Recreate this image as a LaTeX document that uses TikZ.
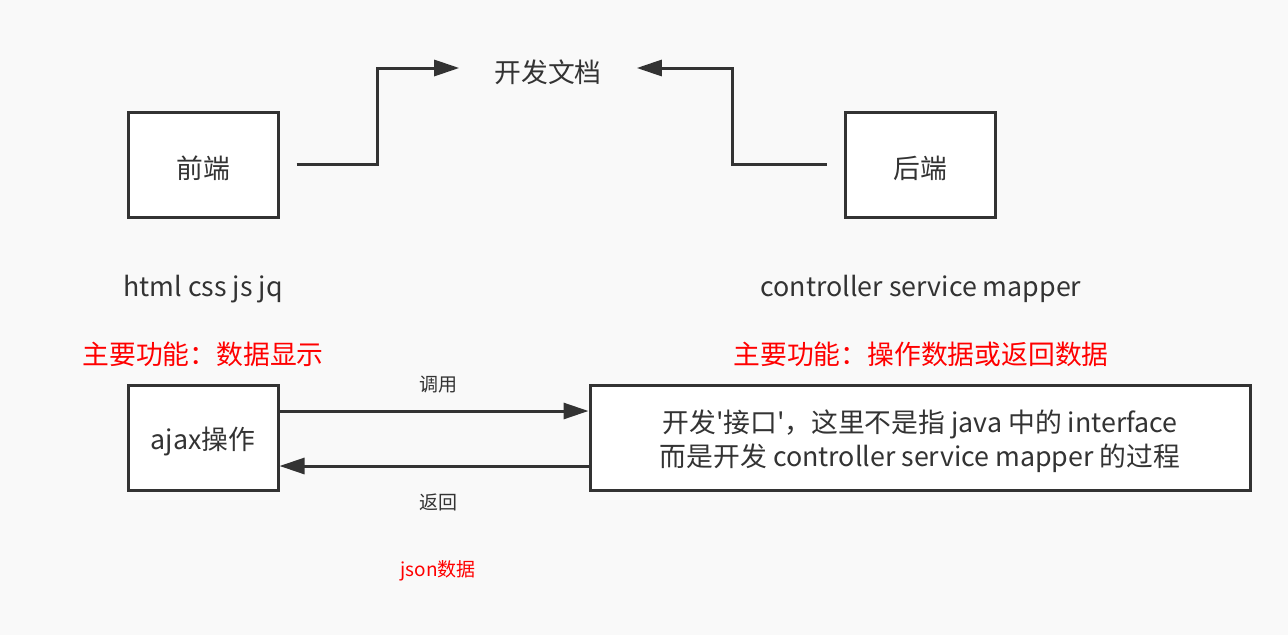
\documentclass[tikz,border=0pt]{standalone}
\usepackage{fontspec}
\newfontfamily\cjk{Noto Sans CJK SC}
\usetikzlibrary{arrows.meta}
\definecolor{ink}{HTML}{333333}
\definecolor{bg}{HTML}{F9F9F9}
\definecolor{redtxt}{HTML}{FF0000}
\begin{document}
\begin{tikzpicture}[x=1pt,y=-1pt,
  every node/.style={inner sep=0pt, text=ink},
  big/.style={font=\cjk\fontsize{26.8}{34}\selectfont, align=center},
  small/.style={font=\cjk\fontsize{19}{24}\selectfont},
  box/.style={draw=ink, line width=3pt, fill=white},
  conn/.style={draw=ink, line width=3pt},
  arr/.style={conn, -{Triangle[length=25pt,width=16pt]}},
  redlabel/.style={text=redtxt}
]
\fill[bg] (0,0) rectangle (1288,635);
\useasboundingbox (0,0) rectangle (1288,635);

\node[box, minimum width=150pt, minimum height=105pt] (fe) at (203,164.5) {};
\node[big] (fetxt) at ([yshift=-4pt]fe.center) {前端};
\node[box, minimum width=150pt, minimum height=105pt] (be) at (920,164.5) {};
\node[big] (betxt) at ([yshift=-4pt]be.center) {后端};
\node[big, inner xsep=35pt] (doc) at (548,72) {开发文档};

\draw[arr] ([xshift=17pt]fe.east) -- ++(81,0) |- ([yshift=4pt]doc.west);
\draw[arr] ([xshift=-17pt]be.west) -- ++(-94,0) |- ([yshift=4pt]doc.east);

\node[big] (fetech) at (203,289) {html css js jq};
\node[big] (betech) at (921,289) {controller service mapper};
\node[big, redlabel] (fefunc) at (203,354) {主要功能：数据显示};
\node[big, redlabel] (befunc) at (921,354) {主要功能：操作数据或返回数据};

\node[box, minimum width=150pt, minimum height=105pt] (aj) at (203,437.5) {};
\node[big] (ajtxt) at ([yshift=-3.5pt]aj.center) {ajax操作};
\node[box, minimum width=660pt, minimum height=105pt] (api) at (920,437.5) {};
\node[big] (apitxt) at ([yshift=-3.5pt]api.center) {开发'接口'，这里不是指 java 中的 interface\\而是开发 controller service mapper 的过程};

\draw[arr] ([yshift=26.5pt]aj.east) -- ([yshift=26.5pt]aj.east -| api.west);
\draw[arr] ([yshift=-28.5pt]api.west) -- ([yshift=-28.5pt]api.west -| aj.east);

\node[small] (call) at (438,385) {调用};
\node[small] (ret) at (438,502) {返回};
\node[small, redlabel] (json) at (438,571) {json数据};
\end{tikzpicture}
\end{document}
